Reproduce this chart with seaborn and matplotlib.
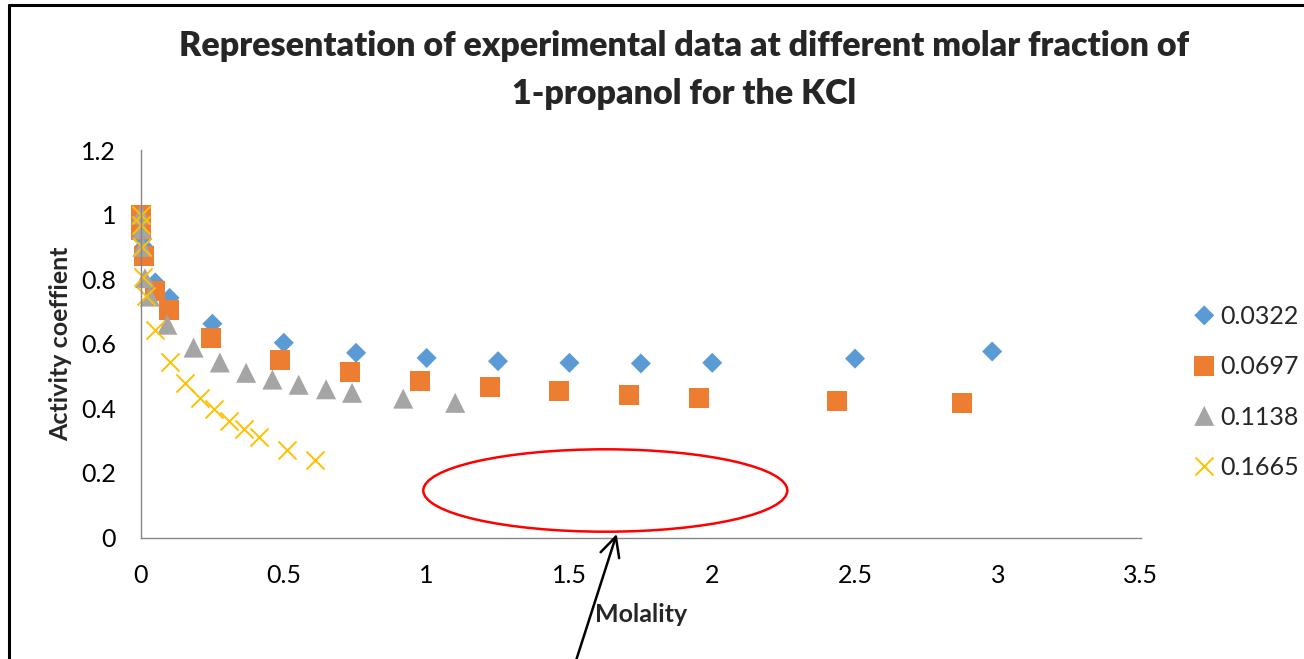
import matplotlib
matplotlib.use("Agg")
import matplotlib.pyplot as plt
from matplotlib.patches import Ellipse
from matplotlib.lines import Line2D
import seaborn as sns
import pandas as pd

sns.set_style("white")
plt.rcParams["font.family"] = ["Lato", "DejaVu Sans"]

# Molality (x) and activity coefficient (y) per 1-propanol molar fraction
x_0322 = [0.001, 0.005, 0.01, 0.05, 0.1, 0.25, 0.5, 0.753, 1.0, 1.25, 1.5, 1.75, 2.0, 2.5, 2.98]
y_0322 = [0.965, 0.925, 0.90, 0.79, 0.742, 0.662, 0.603, 0.572, 0.556, 0.546, 0.541, 0.539, 0.541, 0.554, 0.576]

x_0697 = [0.0, 0.001, 0.009, 0.049, 0.098, 0.244, 0.488, 0.732, 0.976, 1.222, 1.464, 1.708, 1.952, 2.435, 2.876]
y_0697 = [1.0, 0.953, 0.873, 0.762, 0.705, 0.618, 0.551, 0.512, 0.486, 0.466, 0.453, 0.441, 0.432, 0.422, 0.416]

x_1138 = [0.0, 0.002, 0.005, 0.014, 0.031, 0.092, 0.184, 0.276, 0.368, 0.46, 0.552, 0.648, 0.739, 0.918, 1.10]
y_1138 = [1.0, 0.955, 0.90, 0.803, 0.746, 0.659, 0.588, 0.542, 0.51, 0.489, 0.473, 0.459, 0.448, 0.43, 0.417]

x_1665 = [0.0, 0.001, 0.003, 0.006, 0.017, 0.049, 0.102, 0.154, 0.207, 0.256, 0.309, 0.361, 0.412, 0.511, 0.61]
y_1665 = [1.0, 0.968, 0.90, 0.807, 0.748, 0.643, 0.545, 0.48, 0.432, 0.398, 0.362, 0.336, 0.311, 0.27, 0.239]

series_labels = ["0.0322", "0.0697", "0.1138", "0.1665"]
x_ticks = [0, 0.5, 1, 1.5, 2, 2.5, 3, 3.5]
y_ticks = [0, 0.2, 0.4, 0.6, 0.8, 1, 1.2]

W, H = 1304, 659
fig = plt.figure(figsize=(W / 100, H / 100), dpi=100)
ax = fig.add_axes([141 / W, 1 - 537.5 / H, (1140.7 - 141) / W, (537.5 - 150) / H])

styles = [
    dict(marker="D", color="#5B9BD5", s=10.2 ** 2, edgecolor="none"),
    dict(marker="s", color="#ED7D31", s=14.4 ** 2, edgecolor="none"),
    dict(marker="^", color="#A5A5A5", s=14.4 ** 2, edgecolor="none"),
    dict(marker="x", color="#FFC000", s=13 ** 2, linewidth=1.4),
]
for xs, ys, lab, st in zip([x_0322, x_0697, x_1138, x_1665],
                           [y_0322, y_0697, y_1138, y_1665],
                           series_labels, styles):
    df = pd.DataFrame({"Molality": xs, "gamma": ys})
    sns.scatterplot(data=df, x="Molality", y="gamma", ax=ax, label=lab,
                    clip_on=False, **st)

ax.set_xlim(0, 3.5)
ax.set_ylim(0, 1.2)
ax.set_xticks(x_ticks)
ax.set_xticklabels([f"{t:g}" for t in x_ticks])
ax.set_yticks(y_ticks)
ax.set_yticklabels([f"{t:g}" for t in y_ticks])
ax.tick_params(axis="both", length=0, labelsize=18, colors="black")
ax.tick_params(axis="x", pad=19)
ax.tick_params(axis="y", pad=18)
for side in ["top", "right"]:
    ax.spines[side].set_visible(False)
for side in ["left", "bottom"]:
    ax.spines[side].set_color("#868686")
    ax.spines[side].set_linewidth(1.0)
ax.set_xlabel("")
ax.set_ylabel("")
ax.grid(False)

leg = ax.legend(loc="center left", bbox_to_anchor=(1193 / W, 1 - 392 / H),
                bbox_transform=fig.transFigure, frameon=False, fontsize=18,
                handlelength=0.9, handletextpad=0.2, labelspacing=1.09,
                borderpad=0, borderaxespad=0, scatteryoffsets=[0.5])

# titles and axis labels
fig.text(684 / W, 1 - 56 / H,
         "Representation of experimental data at different molar fraction of",
         ha="center", va="baseline", fontsize=24.5, fontweight="heavy")
fig.text(684 / W, 1 - 104 / H, "1-propanol for the KCl",
         ha="center", va="baseline", fontsize=24.5, fontweight="heavy")
fig.text(61 / W, 1 - 344 / H, "Activity coeffient", rotation=90,
         ha="center", va="center", fontsize=18, fontweight="bold")
fig.text(641 / W, 1 - 615 / H, "Molality",
         ha="center", va="center", fontsize=18, fontweight="bold")

# highlight ellipse and pointer arrow
fig.patches.append(Ellipse((605.3 / W, 1 - 490.5 / H), 364 / W, 82.4 / H,
                           transform=fig.transFigure, fill=False,
                           edgecolor="#FF0000", linewidth=1.8))
fig.patches[-1].set_figure(fig)
ax.annotate("", xy=(616.7 / W, 1 - 534 / H), xycoords="figure fraction",
            xytext=(573 / W, 1 - 670 / H), textcoords="figure fraction",
            arrowprops=dict(arrowstyle="->,head_length=0.7,head_width=0.35",
                            color="black", lw=1.8, mutation_scale=20,
                            shrinkA=0, shrinkB=0),
            annotation_clip=False)

# chart frame
fig.lines.append(Line2D([9 / W, 1.0], [1 - 4.7 / H, 1 - 4.7 / H],
                        transform=fig.transFigure, color="black", linewidth=2.2))
fig.lines.append(Line2D([9 / W, 9 / W], [1 - 4.7 / H, 0.0],
                        transform=fig.transFigure, color="black", linewidth=2.2))

fig.savefig("out.png", dpi=100, facecolor="white")
